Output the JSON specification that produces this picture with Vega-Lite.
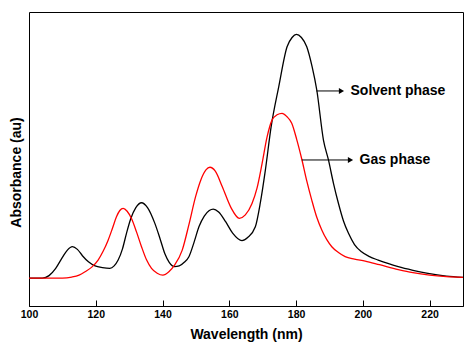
{
  "$schema": "https://vega.github.io/schema/vega-lite/v6.json",
  "width": 434,
  "height": 294,
  "autosize": "none",
  "padding": {"left": 29, "top": 12, "right": 1, "bottom": 41},
  "background": "white",
  "config": {
    "view": {"stroke": "#000000", "strokeWidth": 1},
    "font": "Liberation Sans"
  },
  "datasets": {
    "curves": [
      {"wl": 100, "a": 0, "series": "Solvent"},
      {"wl": 104, "a": 0, "series": "Solvent"},
      {"wl": 106, "a": 0.01, "series": "Solvent"},
      {"wl": 108, "a": 0.04, "series": "Solvent"},
      {"wl": 110, "a": 0.085, "series": "Solvent"},
      {"wl": 111.5, "a": 0.115, "series": "Solvent"},
      {"wl": 113, "a": 0.129, "series": "Solvent"},
      {"wl": 114.5, "a": 0.118, "series": "Solvent"},
      {"wl": 116, "a": 0.092, "series": "Solvent"},
      {"wl": 117.8, "a": 0.067, "series": "Solvent"},
      {"wl": 119.8, "a": 0.05, "series": "Solvent"},
      {"wl": 122, "a": 0.043, "series": "Solvent"},
      {"wl": 124.2, "a": 0.04, "series": "Solvent"},
      {"wl": 125.5, "a": 0.05, "series": "Solvent"},
      {"wl": 126.7, "a": 0.074, "series": "Solvent"},
      {"wl": 128, "a": 0.12, "series": "Solvent"},
      {"wl": 129.2, "a": 0.184, "series": "Solvent"},
      {"wl": 130.5, "a": 0.245, "series": "Solvent"},
      {"wl": 132, "a": 0.29, "series": "Solvent"},
      {"wl": 133.7, "a": 0.31, "series": "Solvent"},
      {"wl": 135.5, "a": 0.29, "series": "Solvent"},
      {"wl": 137.7, "a": 0.225, "series": "Solvent"},
      {"wl": 139.3, "a": 0.16, "series": "Solvent"},
      {"wl": 140.7, "a": 0.1, "series": "Solvent"},
      {"wl": 142, "a": 0.065, "series": "Solvent"},
      {"wl": 143.6, "a": 0.047, "series": "Solvent"},
      {"wl": 145, "a": 0.05, "series": "Solvent"},
      {"wl": 146.5, "a": 0.065, "series": "Solvent"},
      {"wl": 147.9, "a": 0.088, "series": "Solvent"},
      {"wl": 149.5, "a": 0.15, "series": "Solvent"},
      {"wl": 150.9, "a": 0.211, "series": "Solvent"},
      {"wl": 152.5, "a": 0.255, "series": "Solvent"},
      {"wl": 154, "a": 0.278, "series": "Solvent"},
      {"wl": 155.2, "a": 0.284, "series": "Solvent"},
      {"wl": 156.8, "a": 0.272, "series": "Solvent"},
      {"wl": 158.9, "a": 0.232, "series": "Solvent"},
      {"wl": 161, "a": 0.185, "series": "Solvent"},
      {"wl": 163.8, "a": 0.154, "series": "Solvent"},
      {"wl": 165.5, "a": 0.167, "series": "Solvent"},
      {"wl": 167.8, "a": 0.211, "series": "Solvent"},
      {"wl": 169.3, "a": 0.31, "series": "Solvent"},
      {"wl": 170.8, "a": 0.444, "series": "Solvent"},
      {"wl": 172.5, "a": 0.62, "series": "Solvent"},
      {"wl": 174.8, "a": 0.787, "series": "Solvent"},
      {"wl": 177.3, "a": 0.952, "series": "Solvent"},
      {"wl": 178.8, "a": 0.99, "series": "Solvent"},
      {"wl": 180.1, "a": 1.003, "series": "Solvent"},
      {"wl": 181.6, "a": 0.99, "series": "Solvent"},
      {"wl": 183.2, "a": 0.952, "series": "Solvent"},
      {"wl": 184.8, "a": 0.87, "series": "Solvent"},
      {"wl": 186.2, "a": 0.774, "series": "Solvent"},
      {"wl": 188.2, "a": 0.568, "series": "Solvent"},
      {"wl": 189.7, "a": 0.486, "series": "Solvent"},
      {"wl": 191.2, "a": 0.39, "series": "Solvent"},
      {"wl": 192.7, "a": 0.307, "series": "Solvent"},
      {"wl": 194.2, "a": 0.235, "series": "Solvent"},
      {"wl": 195.7, "a": 0.184, "series": "Solvent"},
      {"wl": 197.5, "a": 0.138, "series": "Solvent"},
      {"wl": 199.6, "a": 0.108, "series": "Solvent"},
      {"wl": 202, "a": 0.088, "series": "Solvent"},
      {"wl": 204.6, "a": 0.074, "series": "Solvent"},
      {"wl": 207.5, "a": 0.06, "series": "Solvent"},
      {"wl": 210.6, "a": 0.047, "series": "Solvent"},
      {"wl": 215, "a": 0.032, "series": "Solvent"},
      {"wl": 219.5, "a": 0.019, "series": "Solvent"},
      {"wl": 225, "a": 0.008, "series": "Solvent"},
      {"wl": 230, "a": 0.003, "series": "Solvent"},
      {"wl": 100, "a": 0, "series": "Gas"},
      {"wl": 110, "a": 0, "series": "Gas"},
      {"wl": 112.8, "a": 0.004, "series": "Gas"},
      {"wl": 115, "a": 0.012, "series": "Gas"},
      {"wl": 116.8, "a": 0.026, "series": "Gas"},
      {"wl": 118.8, "a": 0.045, "series": "Gas"},
      {"wl": 120.7, "a": 0.074, "series": "Gas"},
      {"wl": 122.2, "a": 0.11, "series": "Gas"},
      {"wl": 123.7, "a": 0.156, "series": "Gas"},
      {"wl": 125, "a": 0.205, "series": "Gas"},
      {"wl": 126.2, "a": 0.252, "series": "Gas"},
      {"wl": 127.2, "a": 0.278, "series": "Gas"},
      {"wl": 128.2, "a": 0.287, "series": "Gas"},
      {"wl": 129.4, "a": 0.275, "series": "Gas"},
      {"wl": 130.7, "a": 0.245, "series": "Gas"},
      {"wl": 132.2, "a": 0.19, "series": "Gas"},
      {"wl": 133.7, "a": 0.129, "series": "Gas"},
      {"wl": 135.2, "a": 0.075, "series": "Gas"},
      {"wl": 136.7, "a": 0.04, "series": "Gas"},
      {"wl": 138.4, "a": 0.02, "series": "Gas"},
      {"wl": 140.1, "a": 0.012, "series": "Gas"},
      {"wl": 141.9, "a": 0.026, "series": "Gas"},
      {"wl": 143.6, "a": 0.053, "series": "Gas"},
      {"wl": 145.9, "a": 0.115, "series": "Gas"},
      {"wl": 147.9, "a": 0.22, "series": "Gas"},
      {"wl": 149.9, "a": 0.335, "series": "Gas"},
      {"wl": 151.5, "a": 0.405, "series": "Gas"},
      {"wl": 153, "a": 0.445, "series": "Gas"},
      {"wl": 154.2, "a": 0.456, "series": "Gas"},
      {"wl": 155.8, "a": 0.44, "series": "Gas"},
      {"wl": 157.9, "a": 0.376, "series": "Gas"},
      {"wl": 160.5, "a": 0.29, "series": "Gas"},
      {"wl": 163, "a": 0.246, "series": "Gas"},
      {"wl": 164.8, "a": 0.26, "series": "Gas"},
      {"wl": 166.8, "a": 0.307, "series": "Gas"},
      {"wl": 168.3, "a": 0.37, "series": "Gas"},
      {"wl": 169.8, "a": 0.47, "series": "Gas"},
      {"wl": 171.3, "a": 0.58, "series": "Gas"},
      {"wl": 172.8, "a": 0.65, "series": "Gas"},
      {"wl": 174.3, "a": 0.672, "series": "Gas"},
      {"wl": 175.8, "a": 0.678, "series": "Gas"},
      {"wl": 177.2, "a": 0.665, "series": "Gas"},
      {"wl": 178.7, "a": 0.637, "series": "Gas"},
      {"wl": 180.2, "a": 0.57, "series": "Gas"},
      {"wl": 181.7, "a": 0.49, "series": "Gas"},
      {"wl": 183.2, "a": 0.4, "series": "Gas"},
      {"wl": 184.7, "a": 0.321, "series": "Gas"},
      {"wl": 186.2, "a": 0.25, "series": "Gas"},
      {"wl": 187.7, "a": 0.198, "series": "Gas"},
      {"wl": 189.2, "a": 0.158, "series": "Gas"},
      {"wl": 190.7, "a": 0.129, "series": "Gas"},
      {"wl": 192.7, "a": 0.105, "series": "Gas"},
      {"wl": 194.7, "a": 0.088, "series": "Gas"},
      {"wl": 197.5, "a": 0.078, "series": "Gas"},
      {"wl": 200.7, "a": 0.07, "series": "Gas"},
      {"wl": 205, "a": 0.055, "series": "Gas"},
      {"wl": 210.6, "a": 0.035, "series": "Gas"},
      {"wl": 215, "a": 0.022, "series": "Gas"},
      {"wl": 220, "a": 0.012, "series": "Gas"},
      {"wl": 225, "a": 0.006, "series": "Gas"},
      {"wl": 230, "a": 0.003, "series": "Gas"}
    ],
    "notes": [
      {"x1": 186.1, "x2": 193.6, "y": 0.77, "tx": 196.3, "label": "Solvent phase"},
      {"x1": 181.7, "x2": 196.3, "y": 0.486, "tx": 199.0, "label": "Gas phase"}
    ]
  },
  "layer": [
    {
      "data": {"name": "curves"},
      "mark": {"type": "line", "interpolate": "monotone", "strokeWidth": 1.3},
      "encoding": {
        "x": {
          "field": "wl", "type": "quantitative",
          "scale": {"domain": [100, 230], "nice": false, "zero": false},
          "axis": {
            "title": "Wavelength (nm)",
            "values": [100, 110, 120, 130, 140, 150, 160, 170, 180, 190, 200, 210, 220, 230],
            "labelExpr": "datum.value % 20 === 0 && datum.value < 230 ? datum.label : ''",
            "labelFlush": false,
            "labelOverlap": false,
            "tickSize": {"condition": {"test": "datum.value % 20 === 0", "value": -6}, "value": -3},
            "tickColor": "#000000",
            "domainColor": "#000000",
            "grid": false,
            "labelFont": "Liberation Sans",
            "labelFontSize": 10.5,
            "labelFontWeight": "bold",
            "labelColor": "#000000",
            "labelPadding": 9,
            "titleFont": "Liberation Sans",
            "titleFontSize": 14,
            "titleFontWeight": "bold",
            "titleColor": "#000000",
            "titlePadding": 8
          }
        },
        "y": {
          "field": "a", "type": "quantitative",
          "scale": {"domain": [-0.115, 1.095], "nice": false, "zero": false},
          "axis": {
            "title": "Absorbance (au)",
            "labels": false, "ticks": false, "domain": false, "grid": false,
            "titleFont": "Liberation Sans",
            "titleFontSize": 14,
            "titleFontWeight": "bold",
            "titleColor": "#000000",
            "titlePadding": 6,
            "titleY": 160
          }
        },
        "color": {
          "field": "series", "type": "nominal",
          "scale": {"domain": ["Solvent", "Gas"], "range": ["#000000", "#ff0000"]},
          "legend": null
        },
        "order": {"field": "wl", "type": "quantitative"}
      }
    },
    {
      "data": {"name": "notes"},
      "mark": {"type": "rule", "color": "#000000", "strokeWidth": 1},
      "encoding": {
        "x": {"field": "x1", "type": "quantitative"},
        "x2": {"field": "x2"},
        "y": {"field": "y", "type": "quantitative"}
      }
    },
    {
      "data": {"name": "notes"},
      "mark": {"type": "point", "shape": "triangle-right", "filled": true, "color": "#000000", "size": 36, "opacity": 1},
      "encoding": {
        "x": {"field": "x2", "type": "quantitative"},
        "y": {"field": "y", "type": "quantitative"}
      }
    },
    {
      "data": {"name": "notes"},
      "mark": {"type": "text", "align": "left", "baseline": "middle", "font": "Liberation Sans", "fontSize": 14, "fontWeight": "bold", "color": "#000000"},
      "encoding": {
        "x": {"field": "tx", "type": "quantitative"},
        "y": {"field": "y", "type": "quantitative"},
        "text": {"field": "label"}
      }
    }
  ]
}
